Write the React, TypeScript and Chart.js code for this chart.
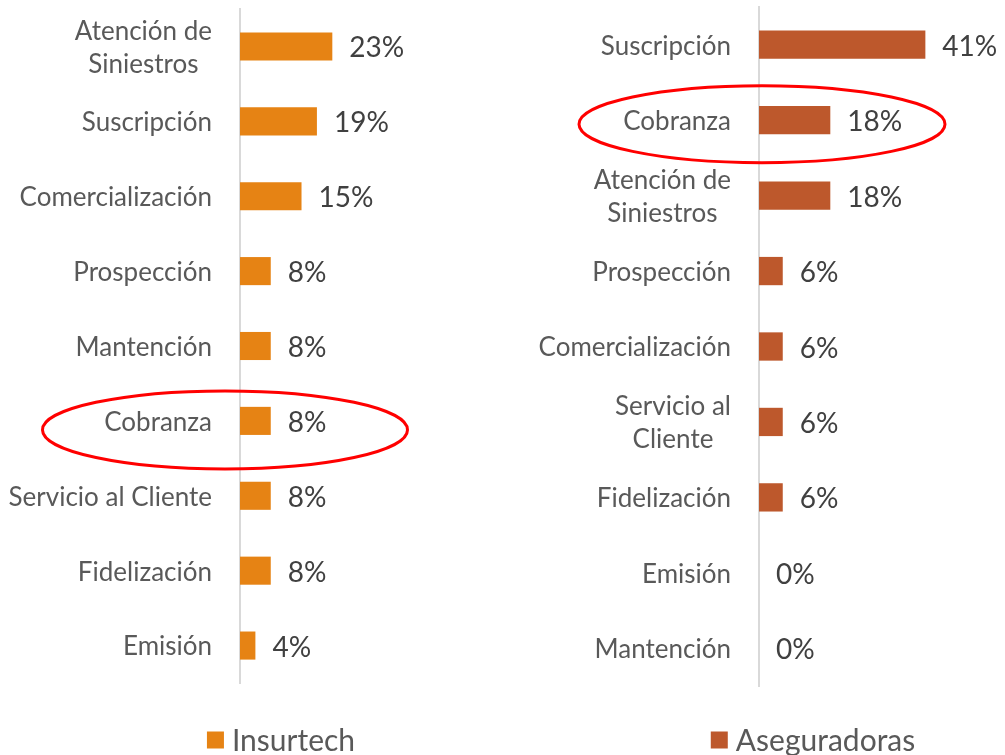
import React, { useEffect, useRef } from "react";
import { Chart, registerables } from "chart.js";

Chart.register(...registerables);

// ---------- DATA ----------
const insurtechCategories: (string | string[])[] = [
  ["Atención de", "Siniestros"],
  "Suscripción",
  "Comercialización",
  "Prospección",
  "Mantención",
  "Cobranza",
  "Servicio al Cliente",
  "Fidelización",
  "Emisión",
];
const insurtechValues = [23.08, 19.23, 15.38, 7.69, 7.69, 7.69, 7.69, 7.69, 3.85];

const aseguradorasCategories: (string | string[])[] = [
  "Suscripción",
  "Cobranza",
  ["Atención de", "Siniestros"],
  "Prospección",
  "Comercialización",
  ["Servicio al", "Cliente"],
  "Fidelización",
  "Emisión",
  "Mantención",
];
const aseguradorasValues = [41.18, 17.65, 17.65, 5.88, 5.88, 5.88, 5.88, 0, 0];

const seriesNames = ["Insurtech", "Aseguradoras"];
const seriesColors = ["#E68314", "#BD582C"];

// ---------- STYLE ----------
const FONT = "Lato, 'Open Sans', sans-serif";
const CAT_FONT_SIZE = 26;
const VAL_FONT_SIZE = 28;
const LEG_FONT_SIZE = 30;

const overlayPlugin = {
  id: "overlay",
  afterDatasetsDraw(chart: any, _args: any, opts: any) {
    const { ctx, chartArea } = chart;
    const yScale = chart.scales.y;
    ctx.save();
    // category labels
    ctx.fillStyle = "#595959";
    ctx.font = `${CAT_FONT_SIZE}px ${FONT}`;
    ctx.textBaseline = "middle";
    const rightX = chartArea.left - 28;
    const labels = chart.data.labels as (string | string[])[];
    labels.forEach((lab, i) => {
      const y = yScale.getPixelForValue(i) + 1.5;
      const lines = Array.isArray(lab) ? lab : [lab];
      const maxW = Math.max(...lines.map((l) => ctx.measureText(l).width));
      const cx = rightX - maxW / 2;
      const lh = 33;
      const y0 = y - ((lines.length - 1) * lh) / 2;
      ctx.textAlign = "center";
      lines.forEach((l, k) => ctx.fillText(l, cx, y0 + k * lh));
    });
    // value labels
    ctx.fillStyle = "#404040";
    ctx.font = `${VAL_FONT_SIZE}px ${FONT}`;
    ctx.textAlign = "left";
    const meta = chart.getDatasetMeta(0);
    const data = chart.data.datasets[0].data as number[];
    meta.data.forEach((bar: any, i: number) => {
      ctx.fillText(`${Math.round(data[i])}%`, bar.x + 17, bar.y + 2);
    });
    // highlight ellipse
    if (opts.ellipse) {
      const e = opts.ellipse;
      const cy = yScale.getPixelForValue(e.index) + e.dy;
      const cx = chartArea.left + e.dx;
      ctx.strokeStyle = "#FF0000";
      ctx.lineWidth = 3;
      ctx.beginPath();
      ctx.ellipse(cx, cy, e.rx, e.ry, 0, 0, Math.PI * 2);
      ctx.stroke();
    }
    // legend
    if (opts.legend) {
      const lg = opts.legend;
      ctx.font = `${LEG_FONT_SIZE}px ${FONT}`;
      const text = chart.data.datasets[0].label;
      const tw = ctx.measureText(text).width;
      const box = 17;
      const gap = 8;
      const total = box + gap + tw;
      const x0 = lg.cx - total / 2;
      ctx.fillStyle = chart.data.datasets[0].backgroundColor;
      ctx.fillRect(x0, lg.cy - box / 2, box, box);
      ctx.fillStyle = "#595959";
      ctx.textAlign = "left";
      ctx.textBaseline = "middle";
      ctx.fillText(text, x0 + box + gap, lg.cy + 1);
    }
    ctx.restore();
  },
};

function makeConfig(
  labels: (string | string[])[],
  values: number[],
  name: string,
  color: string,
  axisLeft: number,
  xMax: number,
  padding: any,
  ellipse: any,
  legend: any
): any {
  return {
    type: "bar",
    data: {
      labels,
      datasets: [
        {
          label: name,
          data: values,
          backgroundColor: color,
          barPercentage: 0.375,
          categoryPercentage: 1,
        },
      ],
    },
    options: {
      indexAxis: "y",
      responsive: false,
      animation: false,
      devicePixelRatio: 1,
      layout: { padding },
      plugins: {
        legend: { display: false },
        tooltip: { enabled: false },
        overlay: { ellipse, legend },
      },
      scales: {
        x: { display: false, min: 0, max: xMax },
        y: {
          display: true,
          grid: { display: false },
          border: { display: true, color: "#D9D9D9", width: 2 },
          ticks: { display: false },
          afterFit: (scale: any) => {
            scale.width = axisLeft;
          },
        },
      },
    },
    plugins: [overlayPlugin],
  };
}

export default function App() {
  const leftRef = useRef<HTMLCanvasElement>(null);
  const rightRef = useRef<HTMLCanvasElement>(null);

  useEffect(() => {
    const left = new Chart(
      leftRef.current!,
      makeConfig(
        insurtechCategories,
        insurtechValues,
        seriesNames[0],
        seriesColors[0],
        240,
        30,
        { left: 0, top: 9, bottom: 72, right: 645 },
        { index: 5, dx: -15, dy: 9, rx: 182.5, ry: 39 },
        { cx: 281, cy: 740 }
      )
    );
    const right = new Chart(
      rightRef.current!,
      makeConfig(
        aseguradorasCategories,
        aseguradorasValues,
        seriesNames[1],
        seriesColors[1],
        759,
        50,
        { left: 0, top: 7, bottom: 69, right: 44 },
        { index: 1, dx: 3, dy: 4, rx: 183, ry: 38.5 },
        { cx: 813, cy: 740 }
      )
    );
    return () => {
      left.destroy();
      right.destroy();
    };
  }, []);

  return (
    <div
      style={{
        position: "fixed",
        left: 0,
        top: 0,
        width: 1005,
        height: 755,
        background: "#ffffff",
      }}
    >
      <canvas
        ref={leftRef}
        width={1005}
        height={755}
        style={{ position: "absolute", left: 0, top: 0 }}
      />
      <canvas
        ref={rightRef}
        width={1005}
        height={755}
        style={{ position: "absolute", left: 0, top: 0 }}
      />
    </div>
  );
}
